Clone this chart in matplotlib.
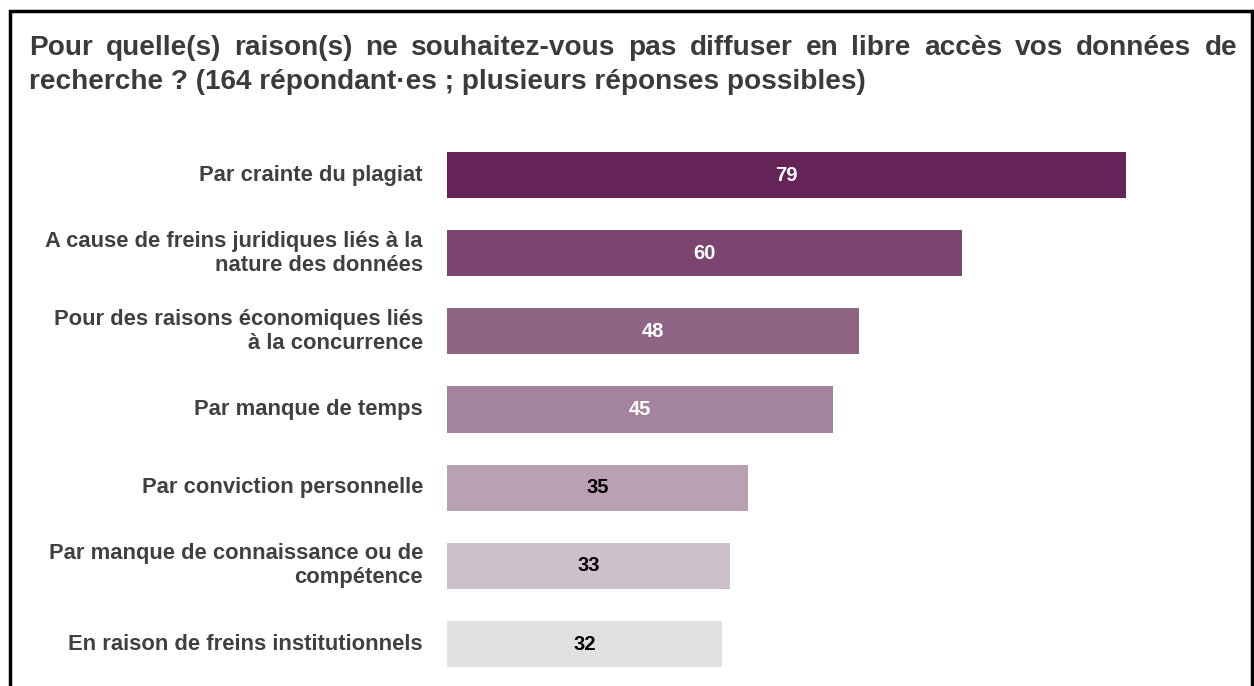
import matplotlib
matplotlib.use("Agg")
import matplotlib.pyplot as plt
from matplotlib.patches import Rectangle
import numpy as np

plt.rcParams['font.family'] = ['Liberation Sans', 'DejaVu Sans']

# data
labels = ["Par crainte du plagiat",
          "A cause de freins juridiques liés à la\nnature des données",
          "Pour des raisons économiques liés\nà la concurrence",
          "Par manque de temps",
          "Par conviction personnelle",
          "Par manque de connaissance ou de\ncompétence",
          "En raison de freins institutionnels"]
values = [79, 60, 48, 45, 35, 33, 32]
colors = ["#642457", "#7a4570", "#8e6584", "#a4849d", "#b9a1b4", "#cec0cb", "#e0e0e0"]
value_colors = ["white", "white", "white", "white", "black", "black", "black"]

title_line1 = "Pour quelle(s) raison(s) ne souhaitez-vous pas diffuser en libre accès vos données de"
title_line2 = "recherche ? (164 répondant·es ; plusieurs réponses possibles)"

W, H = 1254, 686
fig = plt.figure(figsize=(W / 100, H / 100), dpi=100)

# axes placed in pixel terms
ax_left, ax_right, ax_top, ax_bottom = 447, 1220, 140, 686
ax = fig.add_axes([ax_left / W, 1 - ax_bottom / H, (ax_right - ax_left) / W, (ax_bottom - ax_top) / H])
y = np.arange(len(values))
ax.barh(y, values, height=0.59, color=colors)
ax.set_xlim(0, 90)
ax.set_ylim(6.537, -0.448)
ax.axis('off')

for yi, v, tc in zip(y, values, value_colors):
    ax.text(v / 2, yi, str(v), ha='center', va='center', color=tc,
            fontsize=14.5, fontweight='bold')

for yi, lab in zip(y, labels):
    ax.text(-2.8, yi, lab, ha='right', va='center', color='#404040',
            fontsize=15.8, fontweight='bold', linespacing=1.2)

# frame around the chart
fig.patches.append(Rectangle((9.5 / W, -0.05), (1252 - 9.5) / W, 1.05 - 11.5 / H,
                             transform=fig.transFigure, fill=False,
                             edgecolor='black', linewidth=2.5))

# justified title line 1
renderer = fig.canvas.get_renderer()
tkw = dict(fontsize=20.2, fontweight='bold', color='#3b3b3b', va='baseline')
x0, x1 = 29, 1237
words = title_line1.split()
txts = [fig.text(0, 1 - 55 / H, w, **tkw) for w in words]
widths = [t.get_window_extent(renderer).width for t in txts]
gap = (x1 - x0 - sum(widths)) / (len(words) - 1)
x = x0
for t, wd in zip(txts, widths):
    t.set_x(x / W)
    x += wd + gap
fig.text(x0 / W, 1 - 89 / H, title_line2, **tkw)

fig.savefig("out.png", dpi=100)
